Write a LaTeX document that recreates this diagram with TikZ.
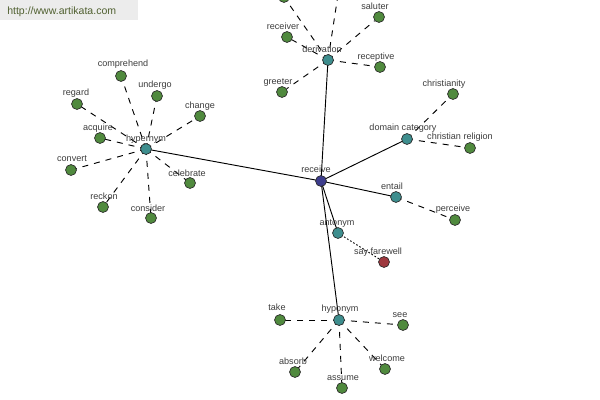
\documentclass[tikz,border=0pt]{standalone}
\usepackage{fontspec}
\setmainfont{Liberation Sans}
\usetikzlibrary{backgrounds}
\definecolor{leafc}{RGB}{80,138,62}
\definecolor{hubc}{RGB}{62,142,142}
\definecolor{rootc}{RGB}{60,60,140}
\definecolor{antc}{RGB}{158,56,62}
\definecolor{lblc}{RGB}{60,60,60}
\definecolor{wmbg}{RGB}{236,236,236}
\definecolor{wmtxt}{RGB}{80,96,48}
\begin{document}
\begin{tikzpicture}[x=0.75pt,y=-0.75pt,
  dot/.style={circle,draw=black!85,line width=0.5pt,inner sep=0pt,minimum size=8.2pt},
  leaf/.style={dot,fill=leafc},
  hub/.style={dot,fill=hubc},
  root/.style={dot,fill=rootc},
  antn/.style={dot,fill=antc},
  lbl/.style={anchor=base,inner sep=0pt,font=\fontsize{6.8}{8}\selectfont,text=lblc},
  rel/.style={line width=0.7pt,black},
  sub/.style={line width=0.7pt,black,dash pattern=on 4.5pt off 4.5pt},
  anto/.style={line width=0.7pt,black,dash pattern=on 1.2pt off 1.5pt}]
\useasboundingbox (0,0) rectangle (600,400);

% watermark
\node[fill=wmbg,inner sep=0pt,minimum width=103.5pt,minimum height=15pt,anchor=north west] (wm) at (0,0) {};
\node[anchor=west,inner sep=0pt,text=wmtxt,font=\fontsize{7.9}{9}\selectfont] (wmt) at (7,12) {http://www.artikata.com};

% main nodes
\node[root] (receive) at (321,181) {};
\node[hub] (derivation) at (328,60) {};
\node[hub] (hypernym) at (146,149) {};
\node[hub] (domain) at (407,139) {};
\node[hub] (entail) at (396,197) {};
\node[hub] (antonym) at (338,233) {};
\node[hub] (hyponym) at (339,320) {};
\node[antn] (farewell) at (384,262) {};

% derivation leaves
\node[leaf] (topleft) at (284,-3) {};
\coordinate (topright) at (341,-25);
\node[leaf] (receiver) at (287,37) {};
\node[leaf] (saluter) at (379,17) {};
\node[leaf] (receptive) at (380,67) {};
\node[leaf] (greeter) at (282,92) {};

% hypernym leaves
\node[leaf] (comprehend) at (121,76) {};
\node[leaf] (undergo) at (157,96) {};
\node[leaf] (regard) at (77,104) {};
\node[leaf] (change) at (200,116) {};
\node[leaf] (acquire) at (100,138) {};
\node[leaf] (convert) at (71,170) {};
\node[leaf] (celebrate) at (190,183) {};
\node[leaf] (reckon) at (103,207) {};
\node[leaf] (consider) at (151,218) {};

% domain / entail leaves
\node[leaf] (christianity) at (453,94) {};
\node[leaf] (religion) at (470,148) {};
\node[leaf] (perceive) at (455,220) {};

% hyponym leaves
\node[leaf] (take) at (280,320) {};
\node[leaf] (see) at (403,325) {};
\node[leaf] (absorb) at (295,372) {};
\node[leaf] (assume) at (342,388) {};
\node[leaf] (welcome) at (385,369) {};

% labels
\node[lbl] (l-receive) at (316,172) {receive};
\node[lbl] (l-derivation) at (322,52) {derivation};
\node[lbl] (l-hypernym) at (146,141) {hypernym};
\node[lbl] (l-domain) at (403,130) {domain category};
\node[lbl] (l-entail) at (392,189) {entail};
\node[lbl] (l-antonym) at (337,225) {antonym};
\node[lbl] (l-hyponym) at (340,311) {hyponym};
\node[lbl] (l-farewell) at (378,254) {say farewell};
\node[lbl] (l-receiver) at (283,29) {receiver};
\node[lbl] (l-saluter) at (375,9) {saluter};
\node[lbl] (l-receptive) at (376,59) {receptive};
\node[lbl] (l-greeter) at (278,84) {greeter};
\node[lbl] (l-comprehend) at (123,66) {comprehend};
\node[lbl] (l-undergo) at (155,87) {undergo};
\node[lbl] (l-regard) at (76,95) {regard};
\node[lbl] (l-change) at (200,108) {change};
\node[lbl] (l-acquire) at (98,130) {acquire};
\node[lbl] (l-convert) at (72,161) {convert};
\node[lbl] (l-celebrate) at (187,176) {celebrate};
\node[lbl] (l-reckon) at (104,199) {reckon};
\node[lbl] (l-consider) at (148,211) {consider};
\node[lbl] (l-christianity) at (444,86) {christianity};
\node[lbl] (l-religion) at (460,139) {christian religion};
\node[lbl] (l-perceive) at (453,211) {perceive};
\node[lbl] (l-take) at (277,310) {take};
\node[lbl] (l-see) at (400,317) {see};
\node[lbl] (l-absorb) at (293,364) {absorb};
\node[lbl] (l-assume) at (343,380) {assume};
\node[lbl] (l-welcome) at (387,361) {welcome};

\begin{scope}[on background layer]
  \draw[rel] (receive.center) -- (derivation.center);
  \draw[rel] (receive.center) -- (hypernym.center);
  \draw[rel] (receive.center) -- (domain.center);
  \draw[rel] (receive.center) -- (entail.center);
  \draw[rel] (receive.center) -- (antonym.center);
  \draw[rel] (receive.center) -- (hyponym.center);
  \foreach \n in {topleft,topright,receiver,saluter,receptive,greeter}
    \draw[sub] (derivation.center) -- (\n);
  \foreach \n in {comprehend,undergo,regard,change,acquire,convert,celebrate,reckon,consider}
    \draw[sub] (hypernym.center) -- (\n.center);
  \foreach \n in {christianity,religion}
    \draw[sub] (domain.center) -- (\n.center);
  \draw[sub] (entail.center) -- (perceive.center);
  \foreach \n in {take,see,absorb,assume,welcome}
    \draw[sub] (hyponym.center) -- (\n.center);
  \draw[anto] (antonym.center) -- (farewell.center);
\end{scope}
\end{tikzpicture}
\end{document}
